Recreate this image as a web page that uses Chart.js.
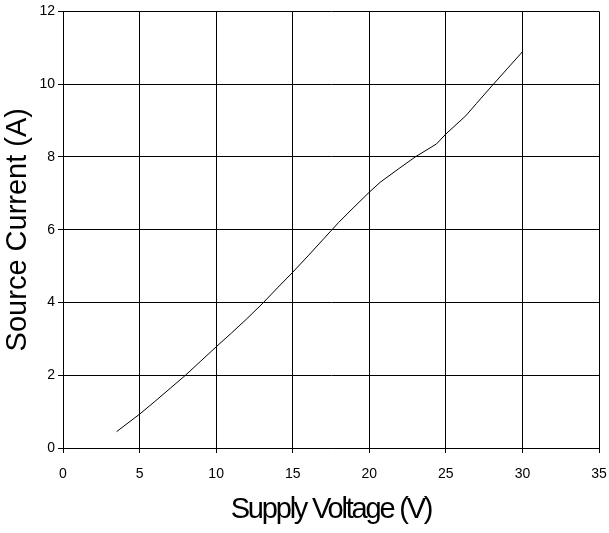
<!DOCTYPE html>
<html>
<head>
<meta charset="utf-8">
<script src="https://cdn.jsdelivr.net/npm/chart.js@4"></script>
<style>
  html, body { margin: 0; padding: 0; background: #fff; }
  #wrap { position: relative; width: 609px; height: 533px; }
</style>
</head>
<body>
<div id="wrap"><canvas id="SupplyChart"></canvas></div>
<script>
// values
var supplyVoltage = [3.5, 5, 6, 7, 8, 9, 10, 11, 12, 13, 14, 15, 16, 17, 18, 19, 20, 20.7, 22, 23, 24.4, 25, 26.3, 27, 28, 29, 30];
var sourceCurrent = [0.45, 0.93, 1.28, 1.64, 2.0, 2.39, 2.78, 3.16, 3.55, 3.96, 4.4, 4.83, 5.28, 5.74, 6.2, 6.62, 7.03, 7.3, 7.7, 8.0, 8.36, 8.63, 9.13, 9.47, 9.95, 10.42, 10.89];
var xTitle = "Supply Voltage (V)";
var yTitle = "Source Current (A)";

document.addEventListener('DOMContentLoaded', function () {
    var canvas = document.getElementById("SupplyChart");

    // collect points
    var chart_data = [];
    for (var i = 0; i < supplyVoltage.length; ++i) {
        chart_data.push({x: supplyVoltage[i], y: sourceCurrent[i]});
    }

    var tickFont = {family: "Arial, 'Liberation Sans'", size: 14};

    new Chart(canvas, {
        type: 'line',
        data: {
            datasets: [{
                data: chart_data,
                borderColor: '#000',
                borderWidth: 1,
                pointRadius: 0,
                tension: 0,
                fill: false
            }]
        },
        options: {
            responsive: true,
            maintainAspectRatio: false,
            animation: false,
            devicePixelRatio: 1,
            layout: {padding: {left: 0, top: 10, right: 10, bottom: 0}},
            plugins: {legend: {display: false}, tooltip: {enabled: false}},
            scales: {
                x: {
                    type: 'linear',
                    min: 0,
                    max: 35,
                    ticks: {stepSize: 5, color: '#000', font: tickFont, padding: 13, maxRotation: 0},
                    grid: {color: '#000', lineWidth: 1, tickLength: 5},
                    border: {color: '#000'},
                    title: {
                        display: true,
                        text: xTitle,
                        color: '#000',
                        font: {family: "Arial, 'Liberation Sans'", size: 29, lineHeight: 1},
                        padding: {top: 0, bottom: 9}
                    },
                    afterFit: function (scale) {
                        scale.height = 85;
                        scale.paddingLeft = 0;
                        scale.paddingRight = 0;
                        // the x title in the original is set tight
                        if (!scale._tightTitle) {
                            var orig = scale.drawTitle;
                            scale.drawTitle = function () {
                                var old = this.ctx.letterSpacing;
                                this.ctx.letterSpacing = '-2.2px';
                                orig.apply(this, arguments);
                                this.ctx.letterSpacing = old || '0px';
                            };
                            scale._tightTitle = true;
                        }
                    }
                },
                y: {
                    type: 'linear',
                    min: 0,
                    max: 12,
                    ticks: {stepSize: 2, color: '#000', font: tickFont, padding: 3},
                    grid: {color: '#000', lineWidth: 1, tickLength: 5},
                    border: {color: '#000'},
                    title: {
                        display: true,
                        text: yTitle,
                        color: '#000',
                        font: {family: "Arial, 'Liberation Sans'", size: 29, lineHeight: 1},
                        padding: {top: 3, bottom: 0}
                    },
                    afterFit: function (scale) { scale.width = 63; }
                }
            }
        }
    });
});
</script>
</body>
</html>
